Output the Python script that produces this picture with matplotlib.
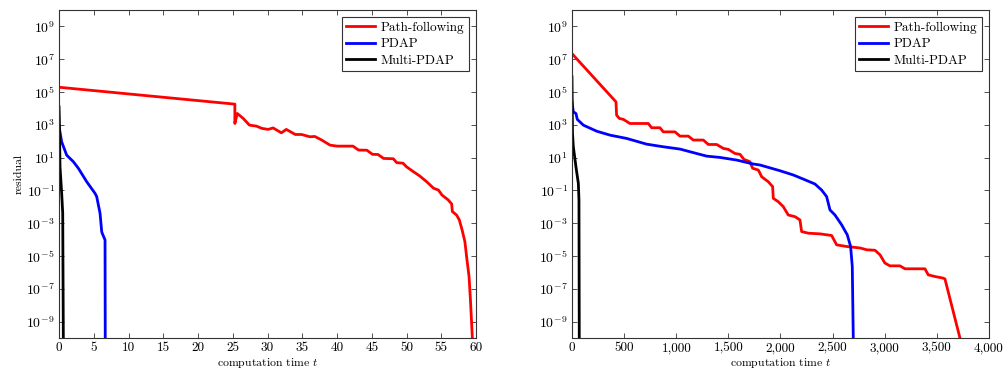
import matplotlib
matplotlib.use("Agg")
import matplotlib.pyplot as plt
from matplotlib.ticker import FuncFormatter, NullLocator

plt.rcParams["font.family"] = "serif"
plt.rcParams["font.serif"] = ["cmr10"]
plt.rcParams["mathtext.fontset"] = "cm"
plt.rcParams["axes.unicode_minus"] = False
plt.rcParams["axes.formatter.use_mathtext"] = True

# left panel: residual (log10) over computation time
left_pf_t = [0, 25.3, 25.3, 25.65, 26.5, 27.4, 28.4, 29.2, 30.1, 30.8, 32.0, 32.7,
             34.0, 34.9, 36.1, 36.8, 37.8, 39.0, 40.0, 42.3, 43.1, 44.3, 45.1, 45.9,
             46.7, 48.1, 48.6, 49.5, 50.0, 51.0, 51.9, 52.9, 53.9, 54.6, 55.1, 56.0,
             56.5, 56.6, 57.2, 57.6, 58.0, 58.4, 58.7, 59.0, 59.2, 59.5]
left_pf_r = [5.29, 4.26, 3.08, 3.69, 3.39, 2.98, 2.92, 2.78, 2.72, 2.81, 2.51, 2.72,
             2.41, 2.41, 2.27, 2.29, 2.07, 1.76, 1.70, 1.70, 1.46, 1.45, 1.20, 1.19,
             0.95, 0.93, 0.69, 0.66, 0.44, 0.14, -0.12, -0.47, -0.87, -0.98, -1.28, -1.58,
             -1.83, -2.29, -2.50, -2.80, -3.41, -4.12, -5.23, -6.25, -7.67, -10.2]
left_pdap_t = [0, 0.38, 1.1, 2.06, 2.78, 3.98, 5.18, 5.42, 5.9, 6.14, 6.2, 6.62, 6.65]
left_pdap_r = [2.9, 1.96, 1.15, 0.75, 0.35, -0.47, -1.18, -1.38, -2.39, -3.51, -3.6, -4.02, -10.2]
left_multi_t = [0, 0.05, 0.14, 0.38, 0.53, 0.62]
left_multi_r = [4.09, 3.28, 0.44, -1.18, -2.39, -10.2]

# right panel
right_pf_t = [0, 422, 428, 454, 493, 556, 732, 764, 844, 876, 988, 1036, 1116, 1164,
              1260, 1308, 1388, 1452, 1500, 1564, 1612, 1650, 1707, 1733, 1788, 1820,
              1883, 1925, 1931, 1979, 2027, 2075, 2139, 2187, 2203, 2267, 2379, 2491,
              2539, 2635, 2763, 2827, 2907, 2955, 3002, 3050, 3146, 3194, 3386, 3418,
              3482, 3562, 3578, 3722]
right_pf_r = [7.34, 4.40, 3.59, 3.39, 3.33, 3.08, 3.08, 2.82, 2.82, 2.57, 2.57, 2.31,
              2.31, 2.07, 2.07, 1.80, 1.80, 1.56, 1.50, 1.25, 1.20, 0.89, 0.75, 0.35,
              0.24, -0.17, -0.47, -0.77, -1.48, -1.69, -1.99, -2.50, -2.60, -2.80, -3.51,
              -3.61, -3.65, -3.75, -4.32, -4.42, -4.51, -4.62, -4.65, -4.93, -5.43, -5.60,
              -5.60, -5.78, -5.78, -6.15, -6.25, -6.35, -6.40, -10.0]
right_pdap_t = [0, 13, 38, 51, 109, 237, 365, 524, 716, 876, 1036, 1196, 1292, 1420,
                1580, 1739, 1803, 1995, 2123, 2219, 2331, 2395, 2443, 2475, 2523, 2587,
                2641, 2673, 2689, 2699]
right_pdap_r = [4.40, 3.79, 3.69, 3.33, 2.98, 2.61, 2.37, 2.17, 1.82, 1.66, 1.52, 1.25,
                1.09, 1.01, 0.85, 0.61, 0.55, 0.20, -0.06, -0.31, -0.61, -0.98, -1.38,
                -2.19, -2.50, -3.10, -3.71, -4.42, -5.64, -10.2]
right_multi_t = [0, 5, 13, 38, 61, 67, 70]
right_multi_r = [5.92, 2.48, 1.66, 0.44, -0.57, -1.58, -10.2]

labels = ["Path-following", "PDAP", "Multi-PDAP"]
colors = ["red", "blue", "black"]
ytick_exp = [9, 7, 5, 3, 1, -1, -3, -5, -7, -9]
left_xticks = [0, 5, 10, 15, 20, 25, 30, 35, 40, 45, 50, 55, 60]
right_xticks = [0, 500, 1000, 1500, 2000, 2500, 3000, 3500, 4000]

fig = plt.figure(figsize=(10.04, 3.72), dpi=100)
ax1 = fig.add_axes([0.0588, 0.0914, 0.4153, 0.8817])
ax2 = fig.add_axes([0.5697, 0.0914, 0.4153, 0.8817])

panels = [
    (ax1, [(left_pf_t, left_pf_r), (left_pdap_t, left_pdap_r), (left_multi_t, left_multi_r)],
     (0, 60), left_xticks),
    (ax2, [(right_pf_t, right_pf_r), (right_pdap_t, right_pdap_r), (right_multi_t, right_multi_r)],
     (0, 4000), right_xticks),
]

for ax, series, xlim, xticks in panels:
    for (t, r), lab, c in zip(series, labels, colors):
        ax.plot(t, [10.0 ** v for v in r], color=c, lw=2, label=lab)
    ax.set_yscale("log")
    ax.set_ylim(1e-10, 1e10)
    ax.set_xlim(*xlim)
    ax.set_xticks(xticks)
    ax.xaxis.set_major_formatter(FuncFormatter(lambda v, p: "{:,}".format(int(v))))
    ax.set_yticks([10.0 ** e for e in ytick_exp])
    ax.set_yticklabels([r"$10^{%d}$" % e for e in ytick_exp])
    ax.yaxis.set_minor_locator(NullLocator())
    ax.tick_params(direction="in", top=True, right=True, length=3.5, width=0.6,
                   labelsize=9.5, pad=3, color="#333333")
    ax.tick_params(axis="y", labelsize=10)
    for s in ax.spines.values():
        s.set_linewidth(0.8)
        s.set_color("#333333")
    ax.set_xlabel("computation time $t$", fontsize=8.5, labelpad=1.5)
    leg = ax.legend(loc="upper right", fontsize=9.5, fancybox=False, framealpha=1,
                    edgecolor="#333333", handlelength=2.2, borderpad=0.35,
                    labelspacing=0.3, handletextpad=0.4, borderaxespad=0.55)
    leg.get_frame().set_linewidth(0.8)

ax1.set_ylabel("residual", fontsize=8.5, labelpad=2)

fig.savefig("out.png", dpi=100)
